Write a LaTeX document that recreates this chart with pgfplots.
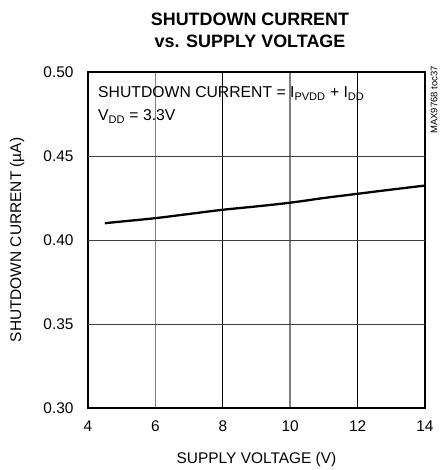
\documentclass[border=0pt]{standalone}
\usepackage{fontspec}
\setmainfont{Liberation Sans}
\usepackage{pgfplots}
\pgfplotsset{compat=1.18}
\begin{document}
\begin{tikzpicture}
\path[use as bounding box] (-88bp,-62bp) rectangle (352bp,408bp);
\begin{axis}[
  at={(0,0)}, anchor=south west,
  scale only axis, width=337bp, height=336bp,
  xmin=4, xmax=14, ymin=0.30, ymax=0.50,
  xtick={4,6,10,14}, ytick={0.30,0.50},
  extra x ticks={8,12},
  extra y ticks={0.35,0.40,0.45},
  extra x tick style={grid style={black, line width=0.9pt}},
  extra y tick style={grid style={black!75, line width=0.9pt}},
  xticklabel style={/pgf/number format/fixed, yshift=-9bp},
  yticklabel style={/pgf/number format/fixed, /pgf/number format/fixed zerofill, /pgf/number format/precision=2, xshift=-11bp},
  /pgf/number format/assume math mode=true,
  grid=major,
  grid style={black!50, line width=1.5pt},
  major tick length=0pt,
  axis line style={line width=2pt},
  tick label style={font=\fontsize{15.5}{18}\selectfont},
  label style={font=\fontsize{15.5}{18}\selectfont},
  xlabel={SUPPLY VOLTAGE (V)},
  ylabel={SHUTDOWN CURRENT (\textmu A)},
  xlabel style={at={(axis description cs:0.5,0)}, anchor=north, inner sep=0pt, yshift=-44bp},
  ylabel style={at={(axis description cs:-0.21,0.5)}, anchor=center, inner sep=0pt},
  clip=false,
]
\addplot[black, line width=2.3pt, smooth] coordinates {
 (4.5,0.4100) (5,0.4110) (6,0.4130) (7,0.4155) (8,0.4180) (9,0.4200) (10,0.4222) (11,0.4250) (12,0.4275) (13,0.4300) (14,0.4324)
};
\node[anchor=north west, align=left, font=\fontsize{15.8}{23}\selectfont, inner sep=0pt] at (axis cs:4.297,0.4914)
 {SHUTDOWN CURRENT = I\textsubscript{PVDD} + I\textsubscript{DD}\\V\textsubscript{DD} = 3.3V};
\end{axis}
\node[rotate=90, font=\fontsize{9.5}{10}\selectfont, inner sep=0pt] at (346bp,308bp) {MAX9768 toc37};
\node[font=\bfseries\fontsize{18}{22}\selectfont, align=center, anchor=center] at (162bp,378bp) {SHUTDOWN CURRENT\\vs. SUPPLY VOLTAGE};
\end{tikzpicture}
\end{document}
